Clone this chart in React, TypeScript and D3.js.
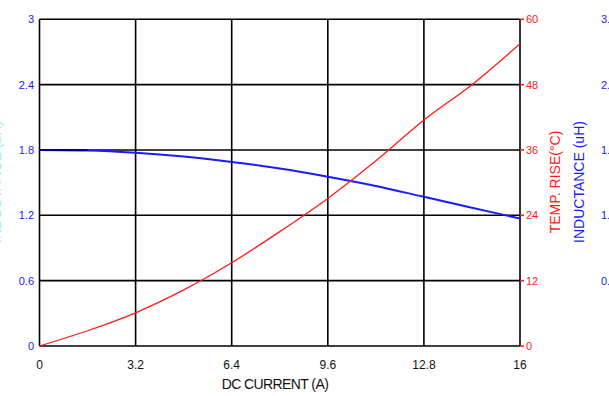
import React from "react";
import * as d3 from "d3";

const currents = [0, 1.6, 3.2, 4.8, 6.4, 8.0, 9.6, 11.2, 12.8, 14.4, 16];
const tempRise = [0, 2.8, 6.1, 10.3, 15.3, 21.0, 27.1, 34.0, 41.5, 48.0, 55.5];
const inductance = [1.8, 1.795, 1.775, 1.74, 1.69, 1.63, 1.555, 1.47, 1.37, 1.27, 1.17];

const xTicks = [0, 3.2, 6.4, 9.6, 12.8, 16];
const xTickLabels = ["0", "3.2", "6.4", "9.6", "12.8", "16"];
const leftTicks = [0, 0.6, 1.2, 1.8, 2.4, 3];
const leftTickLabels = ["0", "0.6", "1.2", "1.8", "2.4", "3"];
const rightTicks = [0, 12, 24, 36, 48, 60];
const rightTickLabels = ["0", "12", "24", "36", "48", "60"];
const farTicks = [0.6, 1.2, 1.8, 2.4, 3];
const farTickLabels = ["0.6", "1.2", "1.8", "2.4", "3.0"];

const W = 609;
const H = 396;
const M = { left: 39.5, right: 520, top: 19.3, bottom: 346 };
const FONT = "'Liberation Sans', Arial, sans-serif";
const BLUE = "#1a1aff";
const RED = "#ff1a1a";

export default function App() {
  const x = d3.scaleLinear().domain([0, 16]).range([M.left, M.right]);
  const yL = d3.scaleLinear().domain([0, 3]).range([M.bottom, M.top]);
  const yR = d3.scaleLinear().domain([0, 60]).range([M.bottom, M.top]);

  const tempLine = d3
    .line<number>()
    .x((_, i) => x(currents[i]))
    .y((d) => yR(d))
    .curve(d3.curveMonotoneX)(tempRise) as string;
  const indLine = d3
    .line<number>()
    .x((_, i) => x(currents[i]))
    .y((d) => yL(d))
    .curve(d3.curveMonotoneX)(inductance) as string;

  return (
    <svg
      width={W}
      height={H}
      style={{ position: "absolute", left: 0, top: 0, background: "#fff", overflow: "hidden" }}
      fontFamily={FONT}
    >
      <rect x={0} y={0} width={W} height={H} fill="#fff" />
      {xTicks.map((t) => (
        <line key={"gx" + t} x1={x(t)} x2={x(t)} y1={M.top} y2={M.bottom} stroke="#000" strokeWidth={1.6} />
      ))}
      {leftTicks.map((t) => (
        <line key={"gy" + t} x1={M.left} x2={M.right} y1={yL(t)} y2={yL(t)} stroke="#000" strokeWidth={1.6} />
      ))}
      {rightTicks.map((t) => (
        <line key={"rt" + t} x1={M.right} x2={M.right + 4} y1={yR(t)} y2={yR(t)} stroke={RED} strokeWidth={1.6} />
      ))}
      <path d={indLine} fill="none" stroke={BLUE} strokeWidth={2} />
      <line x1={x(0)} x2={x(1.6)} y1={yL(1.8)} y2={yL(1.8)} stroke="#000080" strokeWidth={2.2} />
      <path d={tempLine} fill="none" stroke={RED} strokeWidth={1.3} />
      {leftTicks.map((t, i) => (
        <text key={"ll" + t} x={34} y={yL(t) + 4} textAnchor="end" fontSize={11} fill={BLUE}>
          {leftTickLabels[i]}
        </text>
      ))}
      {rightTicks.map((t, i) => (
        <text key={"rl" + t} x={526} y={yR(t) + 4} textAnchor="start" fontSize={11} fill={RED}>
          {rightTickLabels[i]}
        </text>
      ))}
      {farTicks.map((t, i) => (
        <text key={"fl" + t} x={601} y={yL(t) + 4} textAnchor="start" fontSize={11} fill={BLUE}>
          {farTickLabels[i]}
        </text>
      ))}
      {xTicks.map((t, i) => (
        <text key={"xl" + t} x={x(t)} y={369} textAnchor="middle" fontSize={12} fill="#111">
          {xTickLabels[i]}
        </text>
      ))}
      <text x={275} y={389} textAnchor="middle" fontSize={14} fill="#111" letterSpacing={-0.6}>
        DC CURRENT (A)
      </text>
      <text transform={`translate(560,182) rotate(-90)`} textAnchor="middle" fontSize={14} fill={RED}>
        TEMP. RISE(°C)
      </text>
      <text transform={`translate(584,182) rotate(-90)`} textAnchor="middle" fontSize={14} fill={BLUE}>
        INDUCTANCE (uH)
      </text>
      <text transform={`translate(0.6,182) rotate(-90)`} textAnchor="middle" fontSize={14} fill="#99eeff">
        INDUCTANCE (uH)
      </text>
    </svg>
  );
}
